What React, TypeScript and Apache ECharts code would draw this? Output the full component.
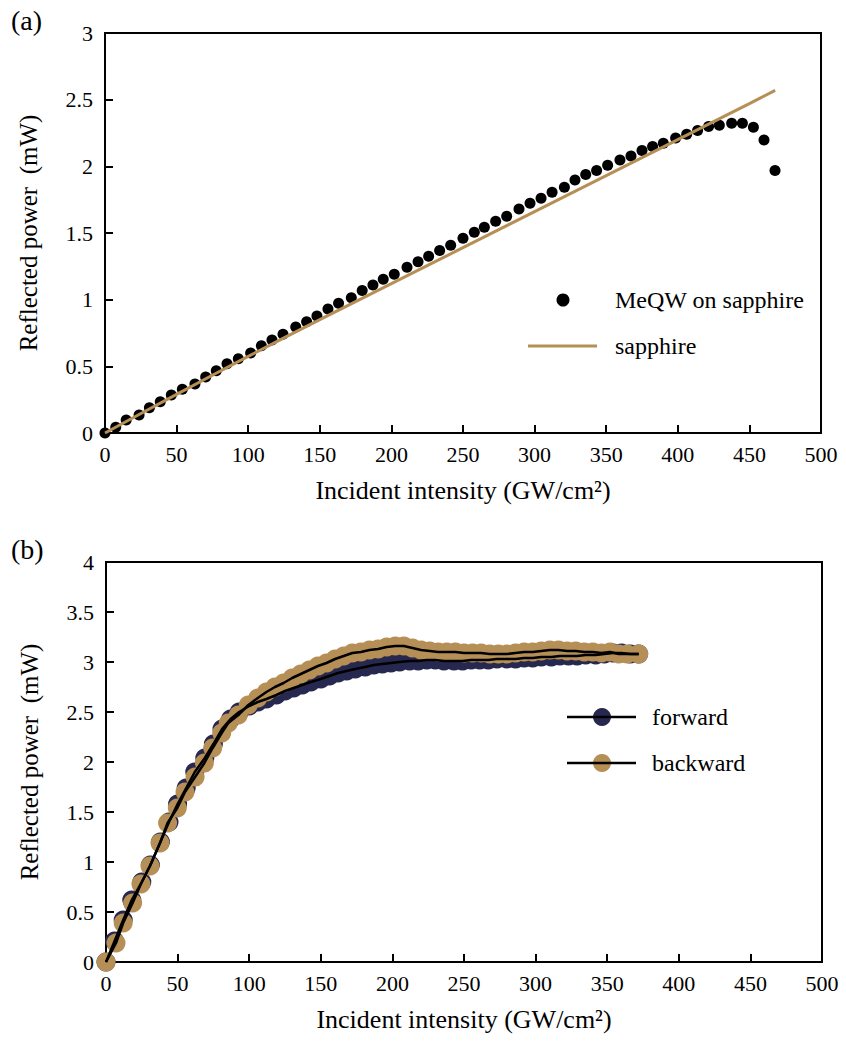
import React, { useEffect, useRef } from "react";
import * as echarts from "echarts";

// ---------- Panel (a) data ----------
const meqwX = [0, 7.5, 14.8, 23.8, 31, 38.6, 46.3, 54, 62.8, 70.3, 77.7, 85.2, 93.1, 101.7, 109.2, 116.6, 124.3, 133.2, 140.8, 148, 155.7, 163.1, 172, 179.6, 187.1, 194.3, 202, 210.9, 218.6, 226, 233.7, 241.4, 250, 257.9, 264.9, 272.8, 280.5, 289.1, 296.8, 304.5, 312.2, 320.8, 328.2, 335.7, 343.3, 351, 359.6, 367.3, 375, 382.4, 389.9, 398.5, 406.2, 413.8, 421.5, 429, 437.6, 445.1, 452.8, 460.2, 467.9];
const meqwY = [0, 0.043, 0.098, 0.135, 0.19, 0.235, 0.285, 0.328, 0.368, 0.42, 0.467, 0.52, 0.557, 0.6, 0.655, 0.698, 0.74, 0.795, 0.835, 0.878, 0.93, 0.973, 1.015, 1.068, 1.11, 1.153, 1.19, 1.243, 1.285, 1.325, 1.368, 1.408, 1.46, 1.505, 1.543, 1.588, 1.625, 1.68, 1.723, 1.76, 1.805, 1.843, 1.898, 1.938, 1.968, 2.008, 2.048, 2.078, 2.118, 2.148, 2.173, 2.213, 2.24, 2.268, 2.298, 2.308, 2.323, 2.323, 2.293, 2.198, 1.968];
const sapphireX = [0, 50, 100, 150, 200, 250, 300, 350, 400, 450, 468];
const sapphireY = [0, 0.29, 0.575, 0.85, 1.12, 1.39, 1.66, 1.93, 2.2, 2.47, 2.57];

// ---------- Panel (b) data ----------
const forwardX = [0, 6, 12, 18, 25, 31, 38, 44, 50, 56, 62, 69, 75, 81, 87, 93, 100, 106, 112, 119, 125, 131, 137, 143, 150, 156, 162, 168, 174, 181, 187, 193, 199, 205, 212, 218, 224, 230, 236, 243, 249, 255, 261, 267, 273, 280, 286, 292, 298, 304, 311, 317, 323, 329, 335, 342, 348, 354, 360, 366, 372];
const forwardY = [0, 0.21, 0.42, 0.62, 0.8, 0.97, 1.2, 1.4, 1.58, 1.74, 1.9, 2.04, 2.18, 2.33, 2.43, 2.5, 2.56, 2.6, 2.63, 2.67, 2.71, 2.74, 2.77, 2.8, 2.83, 2.86, 2.89, 2.91, 2.93, 2.95, 2.97, 2.98, 2.99, 3.0, 3.01, 3.01, 3.02, 3.02, 3.01, 3.01, 3.01, 3.02, 3.02, 3.02, 3.03, 3.03, 3.03, 3.04, 3.04, 3.05, 3.05, 3.06, 3.06, 3.06, 3.07, 3.07, 3.08, 3.09, 3.09, 3.08, 3.08];
const backwardX = [0, 7, 12, 18.6, 24.4, 30.7, 37.7, 43, 49.8, 55.2, 62.2, 68.7, 74.5, 80.8, 85.4, 92.4, 99.4, 106, 112, 118, 124, 130, 136, 142, 148, 154, 160, 166, 172, 178, 184, 190, 196, 202, 208, 214, 220, 226, 232, 238, 244, 250, 256, 262, 268, 274, 280, 286, 292, 298, 304, 310, 316, 322, 328, 334, 340, 346, 352, 358, 364, 372];
const backwardY = [0, 0.19, 0.39, 0.59, 0.78, 0.96, 1.19, 1.39, 1.54, 1.7, 1.85, 1.99, 2.14, 2.29, 2.39, 2.47, 2.57, 2.64, 2.7, 2.75, 2.79, 2.84, 2.88, 2.92, 2.96, 2.99, 3.03, 3.06, 3.09, 3.1, 3.12, 3.13, 3.15, 3.16, 3.16, 3.14, 3.12, 3.11, 3.1, 3.1, 3.1, 3.09, 3.09, 3.09, 3.08, 3.08, 3.08, 3.09, 3.1, 3.1, 3.11, 3.12, 3.12, 3.11, 3.11, 3.1, 3.1, 3.09, 3.1, 3.08, 3.08, 3.08];

const xMin = 0, xMax = 500, xInterval = 50;
const yMaxA = 3, yMaxB = 4, yInterval = 0.5;

const FONT = "Liberation Serif";
const TAN = "#B58F55";
const NAVY = "#27284F";

const pairs = (xs: number[], ys: number[]) => xs.map((x, i) => [x, ys[i]]);

const xAxisBase = (gridIndex: number) => ({
  type: "value",
  gridIndex,
  min: xMin,
  max: xMax,
  interval: xInterval,
  axisLine: { show: true, lineStyle: { color: "#000", width: 2 } },
  axisTick: { show: true, inside: true, length: 8, lineStyle: { color: "#000", width: 2 } },
  axisLabel: { color: "#000", fontSize: 22, fontFamily: FONT, margin: 10 },
  splitLine: { show: false },
  name: "Incident intensity (GW/cm²)",
  nameLocation: "middle",
  nameGap: 44,
  nameTextStyle: { fontFamily: FONT, fontSize: 26, color: "#000" },
});

const yAxisBase = (gridIndex: number, max: number) => ({
  type: "value",
  gridIndex,
  min: 0,
  max,
  interval: yInterval,
  axisLine: { show: true, lineStyle: { color: "#000", width: 2 } },
  axisTick: { show: true, inside: true, length: 8, lineStyle: { color: "#000", width: 2 } },
  axisLabel: { color: "#000", fontSize: 22, fontFamily: FONT, margin: 12 },
  splitLine: { show: false },
  name: "Reflected power  (mW)",
  nameLocation: "middle",
  nameGap: 64,
  nameTextStyle: { fontSize: 25, fontFamily: FONT, color: "#000" },
});

export default function App() {
  const ref = useRef<HTMLDivElement>(null);
  useEffect(() => {
    if (!ref.current) return;
    const chart = echarts.init(ref.current, null, { renderer: "svg" });
    const txt = (text: string, x: number, y: number, size: number, va = "middle") => ({
      type: "text",
      x,
      y,
      style: { text, fontFamily: FONT, fontSize: size, fill: "#000", verticalAlign: va },
    });
    chart.setOption({
      animation: false,
      grid: [
        { left: 105, top: 33, width: 716, height: 400, show: true, borderColor: "#000", borderWidth: 2, backgroundColor: "transparent" },
        { left: 106, top: 562, width: 716, height: 400, show: true, borderColor: "#000", borderWidth: 2, backgroundColor: "transparent" },
      ],
      xAxis: [xAxisBase(0), xAxisBase(1)],
      yAxis: [yAxisBase(0, yMaxA), yAxisBase(1, yMaxB)],
      series: [
        {
          name: "sapphire",
          type: "line",
          xAxisIndex: 0,
          yAxisIndex: 0,
          data: pairs(sapphireX, sapphireY),
          showSymbol: false,
          smooth: 0.3,
          lineStyle: { color: TAN, width: 3 },
        },
        {
          name: "MeQW on sapphire",
          type: "scatter",
          xAxisIndex: 0,
          yAxisIndex: 0,
          data: pairs(meqwX, meqwY),
          symbol: "circle",
          symbolSize: 11,
          itemStyle: { color: "#000", opacity: 1 },
        },
        {
          name: "forward",
          type: "scatter",
          xAxisIndex: 1,
          yAxisIndex: 1,
          data: pairs(forwardX, forwardY),
          symbolSize: 19,
          itemStyle: { color: NAVY, opacity: 1 },
        },
        {
          name: "forward line",
          type: "line",
          xAxisIndex: 1,
          yAxisIndex: 1,
          data: pairs(forwardX, forwardY),
          showSymbol: false,
          lineStyle: { color: "#000", width: 2.5 },
        },
        {
          name: "backward",
          type: "scatter",
          xAxisIndex: 1,
          yAxisIndex: 1,
          data: pairs(backwardX, backwardY),
          symbolSize: 19,
          itemStyle: { color: TAN, opacity: 1 },
        },
        {
          name: "backward line",
          type: "line",
          xAxisIndex: 1,
          yAxisIndex: 1,
          data: pairs(backwardX, backwardY),
          showSymbol: false,
          lineStyle: { color: "#000", width: 2.5 },
        },
      ],
      graphic: [
        txt("(a)", 11, 20, 28),
        txt("(b)", 11, 549, 28),
        // legend (a)
        { type: "circle", shape: { cx: 563, cy: 300, r: 6.5 }, style: { fill: "#000" } },
        txt("MeQW on sapphire", 615, 300, 24),
        { type: "line", shape: { x1: 528, y1: 346, x2: 597, y2: 346 }, style: { stroke: TAN, lineWidth: 3 } },
        txt("sapphire", 615, 346, 24),
        // legend (b)
        { type: "circle", shape: { cx: 602, cy: 717, r: 9 }, style: { fill: NAVY } },
        { type: "line", shape: { x1: 567, y1: 717, x2: 636, y2: 717 }, style: { stroke: "#000", lineWidth: 2.5 }, z: 200 },
        txt("forward", 652, 717, 24),
        { type: "circle", shape: { cx: 602, cy: 763, r: 9 }, style: { fill: TAN } },
        { type: "line", shape: { x1: 567, y1: 763, x2: 636, y2: 763 }, style: { stroke: "#000", lineWidth: 2.5 }, z: 200 },
        txt("backward", 652, 763, 24),
      ],
    });
    return () => chart.dispose();
  }, []);
  return <div ref={ref} style={{ position: "absolute", left: 0, top: 0, width: 846, height: 1047 }} />;
}
